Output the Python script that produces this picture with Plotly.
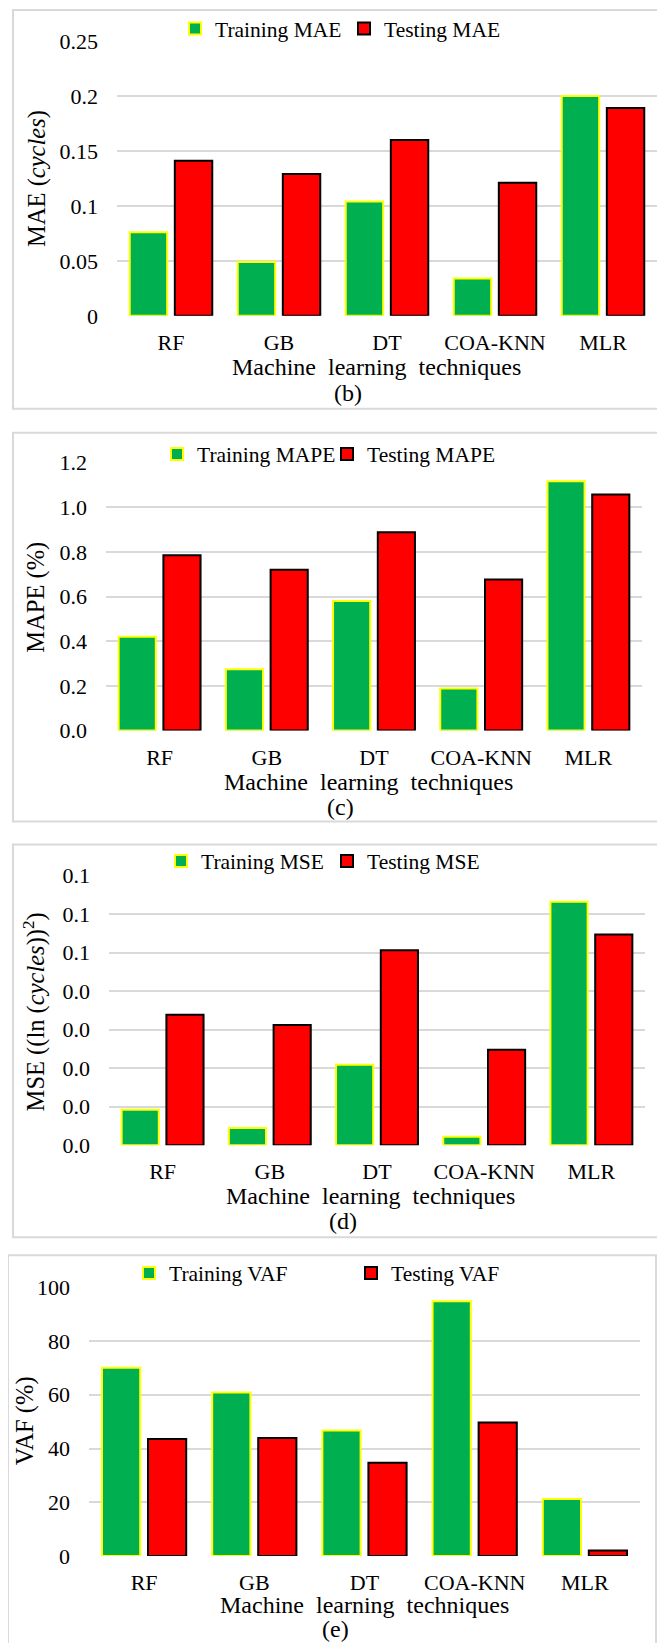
import plotly.graph_objects as go

# Page body has a default 8px margin, so the figure is drawn 8px in from the top-left.
OFF = 8
W, H = 665 - OFF, 1643 - OFF

categories = ["RF", "GB", "DT", "COA-KNN", "MLR"]

mae_train = [0.076, 0.049, 0.104, 0.034, 0.200]
mae_test = [0.141, 0.129, 0.160, 0.121, 0.189]
mape_train = [0.42, 0.275, 0.58, 0.188, 1.117]
mape_test = [0.785, 0.72, 0.888, 0.677, 1.058]
mse_train = [0.0092, 0.0045, 0.0209, 0.0022, 0.0632]
mse_test = [0.0339, 0.0312, 0.0506, 0.0248, 0.0547]
vaf_train = [70.0, 60.8, 46.7, 94.8, 21.2]
vaf_test = [43.5, 43.9, 34.7, 49.7, 2.1]

mae_ticks = [0, 0.05, 0.1, 0.15, 0.2, 0.25]
mae_tick_labels = ["0", "0.05", "0.1", "0.15", "0.2", "0.25"]
mape_ticks = [0, 0.2, 0.4, 0.6, 0.8, 1.0, 1.2]
mape_tick_labels = ["0.0", "0.2", "0.4", "0.6", "0.8", "1.0", "1.2"]
mse_ticks = [0, 0.01, 0.02, 0.03, 0.04, 0.05, 0.06, 0.07]
mse_tick_labels = ["0.0", "0.0", "0.0", "0.0", "0.0", "0.1", "0.1", "0.1"]
vaf_ticks = [0, 20, 40, 60, 80, 100]
vaf_tick_labels = ["0", "20", "40", "60", "80", "100"]

FONT = "Liberation Serif, Times New Roman, serif"
GREEN, RED, YELLOW = "#00B050", "#FF0000", "#FFFF00"
GRID = "#D9D9D9"


def X(px):
    return (px - OFF) / W


def Y(py):
    return 1 - (py - OFF) / H


panels = [
    dict(train=mae_train, test=mae_test, names=("Training MAE", "Testing MAE"),
         ticks=mae_ticks, labels=mae_tick_labels, ymax=0.25,
         px=(117, 657), py=(40, 315), ytitle="MAE (<i>cycles</i>)", yt=(37, 178),
         xt=(376, 366), cap="(b)", capxy=(348, 392),
         leg=((194, 28), (363, 28)), box=(13, 9, 700, 408)),
    dict(train=mape_train, test=mape_test, names=("Training MAPE", "Testing MAPE"),
         ticks=mape_ticks, labels=mape_tick_labels, ymax=1.2,
         px=(106, 642), py=(462, 730), ytitle="MAPE (%)", yt=(36, 597),
         xt=(368, 781), cap="(c)", capxy=(340, 806),
         leg=((176, 454), (346, 454)), box=(13, 432, 662, 821)),
    dict(train=mse_train, test=mse_test, names=("Training MSE", "Testing MSE"),
         ticks=mse_ticks, labels=mse_tick_labels, ymax=0.07,
         px=(109, 645), py=(875, 1145),
         ytitle="MSE ((ln (<i>cycles</i>))<sup>2</sup>)", yt=(34, 1012),
         xt=(370, 1196), cap="(d)", capxy=(343, 1221),
         leg=((180, 861), (346, 861)), box=(13, 844, 663, 1237)),
    dict(train=vaf_train, test=vaf_test, names=("Training VAF", "Testing VAF"),
         ticks=vaf_ticks, labels=vaf_tick_labels, ymax=100,
         px=(89, 640), py=(1287, 1556), ytitle="VAF (%)", yt=(25, 1421),
         xt=(364, 1605), cap="(e)", capxy=(335, 1629),
         leg=((148, 1273), (370, 1273)), box=(OFF, 1255, 656, 1700)),
]

fig = go.Figure()
layout = dict(
    width=W, height=H,
    margin=dict(l=0, r=0, t=0, b=0),
    paper_bgcolor="white", plot_bgcolor="white",
    font=dict(family=FONT, size=22, color="black"),
    barmode="group", bargap=0.165, bargroupgap=0.17,
    annotations=[], shapes=[],
)

leg_i = 0
for i, p in enumerate(panels):
    n = "" if i == 0 else str(i + 1)
    for j, (vals, col, lc) in enumerate([(p["train"], GREEN, YELLOW), (p["test"], RED, "black")]):
        leg_i += 1
        lname = "legend" if leg_i == 1 else "legend%d" % leg_i
        fig.add_trace(go.Bar(
            x=categories, y=vals, name=p["names"][j],
            marker=dict(color=col, line=dict(color=lc, width=2)),
            xaxis="x" + n, yaxis="y" + n, legend=lname, showlegend=True,
        ))
        mx, my = p["leg"][j]
        layout[lname] = dict(
            x=X(mx - 19), y=Y(my), xanchor="left", yanchor="middle",
            bgcolor="rgba(0,0,0,0)", font=dict(family=FONT, size=21.5, color="black"),
            orientation="h",
        )
    layout["xaxis" + n] = dict(
        domain=[X(p["px"][0]), X(p["px"][1])], anchor="y" + n,
        range=[-0.5, 4.5], showgrid=False, showline=False, zeroline=False,
        tickfont=dict(family=FONT, size=22, color="black"), ticks="",
        ticklabelstandoff=11, fixedrange=True, automargin=False,
    )
    layout["yaxis" + n] = dict(
        domain=[Y(p["py"][1]), Y(p["py"][0])], anchor="x" + n,
        range=[0, p["ymax"]], tickvals=p["ticks"], ticktext=p["labels"],
        showgrid=True, gridcolor=GRID, gridwidth=1.5, zeroline=False, showline=False,
        tickfont=dict(family=FONT, size=22, color="black"), ticks="",
        ticklabelstandoff=18, fixedrange=True, automargin=False,
    )
    layout["annotations"] += [
        dict(text=p["ytitle"], x=X(p["yt"][0]), y=Y(p["yt"][1]), xref="paper", yref="paper",
             textangle=-90, showarrow=False, xanchor="center", yanchor="middle",
             font=dict(family=FONT, size=24.5, color="black")),
        dict(text="Machine\u00a0 learning\u00a0 techniques", x=X(p["xt"][0]), y=Y(p["xt"][1]),
             xref="paper", yref="paper", showarrow=False, xanchor="center", yanchor="middle",
             font=dict(family=FONT, size=24, color="black")),
        dict(text=p["cap"], x=X(p["capxy"][0]), y=Y(p["capxy"][1]), xref="paper", yref="paper",
             showarrow=False, xanchor="center", yanchor="middle",
             font=dict(family=FONT, size=24, color="black")),
    ]
    bx0, by0, bx1, by1 = p["box"]
    layout["shapes"].append(dict(
        type="rect", xref="paper", yref="paper",
        x0=X(bx0), x1=X(bx1), y0=Y(by1), y1=Y(by0),
        line=dict(color=GRID, width=2), fillcolor="rgba(0,0,0,0)", layer="below",
    ))

fig.update_layout(**layout)
fig.write_html("out.html")
